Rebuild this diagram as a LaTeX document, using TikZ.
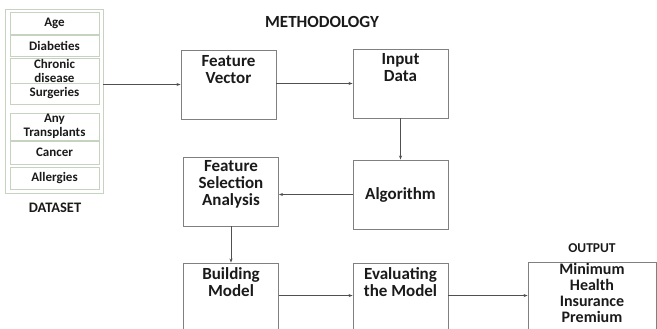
\documentclass[tikz,border=0pt]{standalone}
\usepackage{fontspec}
\setmainfont{Carlito}
\usetikzlibrary{arrows.meta,calc}
\definecolor{boxgray}{HTML}{808080}
\definecolor{dsgreen}{HTML}{C5D3C0}
\definecolor{ink}{HTML}{1A1A1A}
\definecolor{wire}{HTML}{505050}
\tikzset{
  stepbox/.style={draw=boxgray,line width=0.9pt,minimum width=95pt,minimum height=69pt,inner sep=0pt},
  boxtext/.style={anchor=north,align=center,inner sep=0pt,text=ink,font=\bfseries\fontsize{17}{16.7}\selectfont},
  dsitem/.style={draw=dsgreen,line width=0.8pt,minimum width=89pt,inner sep=0pt,align=center,text=ink,font=\bfseries\fontsize{13}{14}\selectfont},
  caption/.style={text=ink,inner sep=0pt,font=\bfseries\fontsize{14.5}{15}\selectfont},
  arr/.style={draw=wire,line width=0.6pt,-{Stealth[length=4pt,width=3pt]}}
}
\begin{document}
\begin{tikzpicture}[x=1pt,y=-1pt]
\useasboundingbox (0,0) rectangle (657,329);

% dataset column
\node[draw=dsgreen,line width=0.8pt,minimum width=98pt,minimum height=184pt,inner sep=0pt] (dataset) at (54,101) {};
\node[dsitem,minimum height=22pt] (age) at (54.5,23) {Age};
\node[dsitem,minimum height=21pt] (diab) at (54.5,45.5) {Diabeties};
\node[dsitem,minimum height=25pt] (chron) at (54.5,70.5) {Chronic\\disease};
\node[dsitem,minimum height=21pt] (surg) at (54.5,93.5) {Surgeries};
\node[dsitem,minimum height=27pt] (trans) at (54.5,126.5) {Any\\Transplants};
\node[dsitem,minimum height=23pt] (canc) at (54.5,152.5) {Cancer};
\node[dsitem,minimum height=22pt] (allg) at (54.5,178) {Allergies};
\node[caption] (dslabel) at (55,208) {DATASET};

\node[caption,font=\bfseries\fontsize{17}{17}\selectfont] (title) at (322,22) {METHODOLOGY};

% process boxes
\node[stepbox] (fv) at (228.5,84.5) {};
\node[boxtext] at ($(fv.north)+(0,6)$) {Feature\\Vector};
\node[stepbox] (in) at (400.5,83.5) {};
\node[boxtext] at ($(in.north)+(0,5)$) {Input\\Data};
\node[stepbox] (alg) at (400.5,194.5) {};
\node[boxtext,anchor=center] at (alg.center) {Algorithm};
\node[stepbox] (fsa) at (231,191.5) {};
\node[boxtext] at ($(fsa.north)+(0,4)$) {Feature\\Selection\\Analysis};
\node[stepbox,minimum height=80pt] (bm) at (231,303) {};
\node[boxtext] at ($(bm.north)+(0,5)$) {Building\\Model};
\node[stepbox,minimum height=80pt] (ev) at (400.5,303) {};
\node[boxtext] at ($(ev.north)+(0,5)$) {Evaluating\\the Model};
\node[stepbox,minimum width=128pt,minimum height=80pt] (out) at (592,302) {};
\node[boxtext,font=\bfseries\fontsize{16}{16}\selectfont] at ($(out.north)+(0,2)$) {Minimum\\Health\\Insurance\\Premium};
\node[caption,font=\bfseries\fontsize{13.5}{15}\selectfont] (outlabel) at (592,248) {OUTPUT};

% connectors
\draw[arr] (dataset.east |- fv.west) -- (fv.west);
\draw[arr] ([yshift=1pt]fv.east) -- ([yshift=1pt]fv.east -| in.west);
\draw[arr] (in.south) -- (alg.north);
\draw[arr] (alg.west) -- (alg.west -| fsa.east);
\draw[arr] (fsa.south) -- (bm.north);
\coordinate (bmout) at ($(bm.north east)+(0,33)$);
\draw[arr] (bmout) -- (bmout -| ev.west);
\coordinate (evout) at ($(ev.north east)+(0,33)$);
\draw[arr] (evout) -- (evout -| out.west);
\end{tikzpicture}
\end{document}
